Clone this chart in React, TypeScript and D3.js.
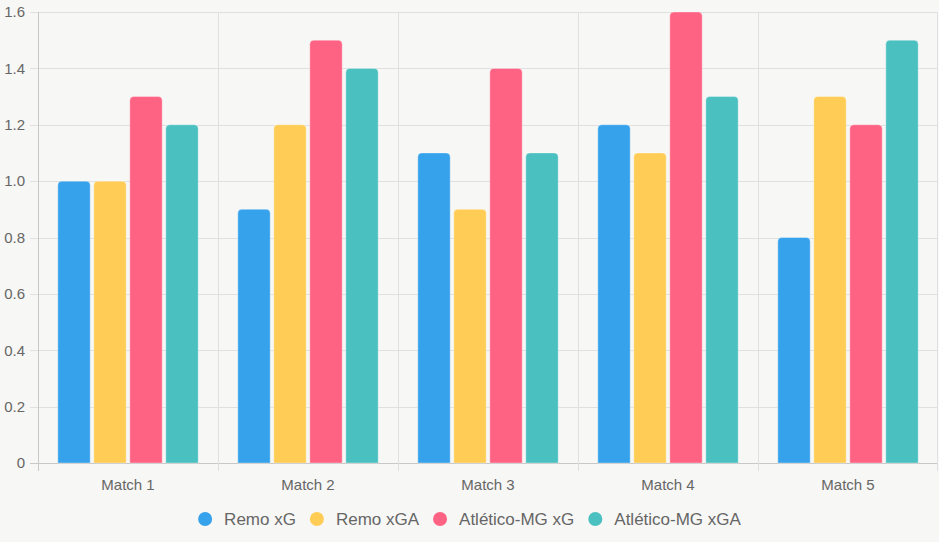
import React, { useEffect, useRef } from "react";
import * as d3 from "d3";

const matches = ["Match 1", "Match 2", "Match 3", "Match 4", "Match 5"];
const seriesNames = ["Remo xG", "Remo xGA", "Atlético-MG xG", "Atlético-MG xGA"];
const remoXG = [1.0, 0.9, 1.1, 1.2, 0.8];
const remoXGA = [1.0, 1.2, 0.9, 1.1, 1.3];
const atleticoXG = [1.3, 1.5, 1.4, 1.6, 1.2];
const atleticoXGA = [1.2, 1.4, 1.1, 1.3, 1.5];
const yTicks = [0, 0.2, 0.4, 0.6, 0.8, 1.0, 1.2, 1.4, 1.6];
const colors = ["#36A2EB", "#FFCD56", "#FF6384", "#4BC0C0"];

const W = 939;
const H = 542;

const App = () => {
  const ref = useRef<SVGSVGElement>(null);

  useEffect(() => {
    const values = [remoXG, remoXGA, atleticoXG, atleticoXGA];
    const margin = { top: 12, right: 1, bottom: 79, left: 38 };
    const svg = d3.select(ref.current);
    svg.selectAll("*").remove();

    svg.append("rect").attr("width", W).attr("height", H).attr("fill", "#f7f7f5");

    const x = d3
      .scaleBand()
      .domain(matches)
      .range([margin.left, W - margin.right])
      .paddingInner(0)
      .paddingOuter(0);

    const y = d3
      .scaleLinear()
      .domain([0, 1.6])
      .range([H - margin.bottom, margin.top]);

    const inner = d3
      .scaleBand()
      .domain(seriesNames)
      .range([0, x.bandwidth() * 0.8])
      .paddingInner(0.1)
      .paddingOuter(0.05);

    const font = "Helvetica Neue, Helvetica, Arial, sans-serif";

    // grid
    const grid = svg.append("g");
    yTicks.forEach((t) => {
      grid
        .append("line")
        .attr("x1", margin.left - 8)
        .attr("x2", W - margin.right)
        .attr("y1", Math.round(y(t)) + 0.5)
        .attr("y2", Math.round(y(t)) + 0.5)
        .attr("stroke", t === 0 ? "#c8c8c8" : "#e0e0e0");
    });
    const bounds = matches.map((m) => x(m)!).concat([W - margin.right - 1]);
    bounds.forEach((b, i) => {
      grid
        .append("line")
        .attr("x1", Math.round(b) + 0.5)
        .attr("x2", Math.round(b) + 0.5)
        .attr("y1", margin.top)
        .attr("y2", H - margin.bottom + 8)
        .attr("stroke", i === 0 ? "#c8c8c8" : "#e0e0e0");
    });

    // y labels
    svg
      .append("g")
      .selectAll("text")
      .data(yTicks)
      .join("text")
      .attr("x", margin.left - 13)
      .attr("y", (d) => y(d))
      .attr("dy", "0.35em")
      .attr("text-anchor", "end")
      .attr("font-family", font)
      .attr("font-size", 15)
      .attr("fill", "#666")
      .text((d) => (d === 0 ? "0" : d3.format(".1f")(d)));

    // x labels
    svg
      .append("g")
      .selectAll("text")
      .data(matches)
      .join("text")
      .attr("x", (d) => x(d)! + x.bandwidth() / 2)
      .attr("y", H - margin.bottom + 22)
      .attr("dy", "0.35em")
      .attr("text-anchor", "middle")
      .attr("font-family", font)
      .attr("font-size", 15)
      .attr("fill", "#666")
      .text((d) => d);

    // bars
    const r = 4;
    const barPath = (x0: number, w: number, yTop: number, yBase: number) => {
      const rr = Math.min(r, w / 2, yBase - yTop);
      return `M${x0},${yBase}V${yTop + rr}Q${x0},${yTop} ${x0 + rr},${yTop}H${x0 + w - rr}Q${x0 + w},${yTop} ${x0 + w},${yTop + rr}V${yBase}Z`;
    };
    const offset = x.bandwidth() * 0.1;
    seriesNames.forEach((s, si) => {
      svg
        .append("g")
        .selectAll("path")
        .data(values[si])
        .join("path")
        .attr("d", (v, i) =>
          barPath(x(matches[i])! + offset + inner(s)!, inner.bandwidth(), y(v), y(0))
        )
        .attr("fill", colors[si])
        .attr("stroke", "rgba(255,255,255,0.35)")
        .attr("stroke-width", 1);
    });

    // legend
    const dotR = 7;
    const textOff = 19;
    const gap = 21;
    const lg = svg.append("g").attr("font-family", font).attr("font-size", 17).attr("fill", "#666");
    const items = seriesNames.map((s, i) => {
      const g = lg.append("g");
      g.append("circle").attr("cx", 0).attr("cy", 0).attr("r", dotR).attr("fill", colors[i]);
      const t = g.append("text").attr("x", textOff).attr("dy", "0.35em").text(s);
      const tw = (t.node() as SVGTextElement).getComputedTextLength();
      return { g, w: textOff + tw };
    });
    const total = d3.sum(items, (d) => d.w) + gap * (items.length - 1) + dotR;
    let cx = W / 2 - total / 2 + dotR;
    items.forEach((it) => {
      it.g.attr("transform", `translate(${cx},519)`);
      cx += it.w + gap;
    });
  }, []);

  return (
    <svg
      ref={ref}
      width={W}
      height={H}
      style={{ position: "absolute", left: 0, top: 0, display: "block" }}
    />
  );
};

export default App;
